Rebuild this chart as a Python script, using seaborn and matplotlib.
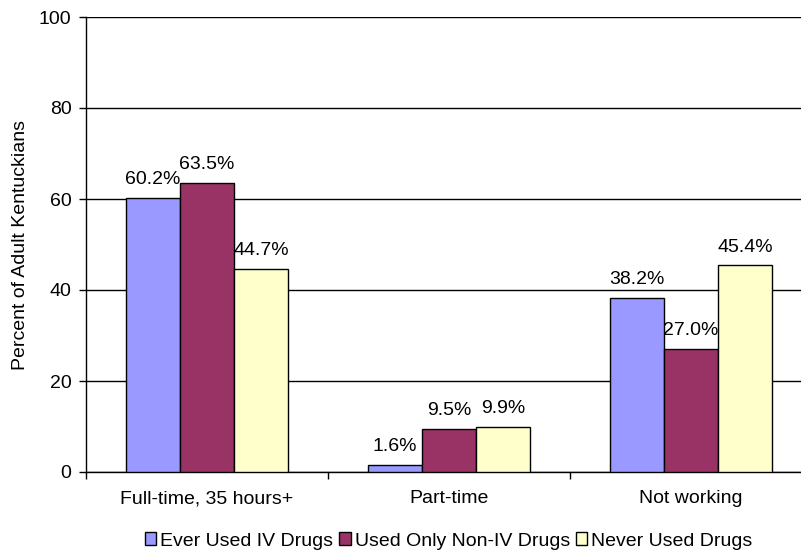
import matplotlib
matplotlib.use("Agg")
import matplotlib.pyplot as plt
from matplotlib.patches import Patch
import seaborn as sns
import pandas as pd

# Employment status by drug-use history
categories = ["Full-time, 35 hours+", "Part-time", "Not working"]
groups = ["Ever Used IV Drugs", "Used Only Non-IV Drugs", "Never Used Drugs"]
ever_iv = [60.2, 1.6, 38.2]
non_iv_only = [63.5, 9.5, 27.0]
never_used = [44.7, 9.9, 45.4]
y_ticks = [0, 20, 40, 60, 80, 100]

colors = ["#9999FF", "#993366", "#FFFFCC"]

rows = []
for g, vals in zip(groups, [ever_iv, non_iv_only, never_used]):
    for c, v in zip(categories, vals):
        rows.append({"Status": c, "Group": g, "Percent": v})
df = pd.DataFrame(rows)

sns.set_style("white")
plt.rcParams["font.family"] = ["Liberation Sans", "DejaVu Sans"]
plt.rcParams.update({"text.color": "black", "axes.labelcolor": "black",
                     "xtick.color": "black", "ytick.color": "black"})
FS = 14

fig = plt.figure(figsize=(8.01, 5.52), dpi=100)
ax = fig.add_axes([86 / 801, 1 - 472 / 552, 726 / 801, 455 / 552])

sns.barplot(data=df, x="Status", y="Percent", hue="Group", order=categories,
            hue_order=groups, palette=colors, width=0.67, edgecolor="black",
            linewidth=1, saturation=1, ax=ax, legend=False, zorder=3)

for cont in ax.containers:
    ax.bar_label(cont, labels=[f"{v:.1f}%" for v in cont.datavalues],
                 padding=7, fontsize=FS, color="black")

ax.set_xlim(-0.5, 2.5)
ax.set_ylim(0, 100)
ax.set_yticks(y_ticks)
ax.set_yticklabels([str(t) for t in y_ticks], fontsize=FS)
ax.yaxis.grid(True, color="black", linewidth=1, zorder=0)
ax.set_axisbelow(True)

# Category labels at the centres, tick marks at category boundaries
ax.set_xticks(range(len(categories)))
ax.set_xticklabels(categories, fontsize=FS)
ax.tick_params(axis="x", which="major", length=0, pad=13)
ax.set_xticks([-0.5, 0.5, 1.5, 2.5], minor=True)
ax.tick_params(axis="x", which="minor", length=5, width=1, color="black", direction="out", bottom=True)
ax.tick_params(axis="y", length=5, width=1, color="black", direction="out", left=True, pad=5.5)

ax.set_xlabel("")
ax.set_ylabel("Percent of Adult Kentuckians", fontsize=FS, labelpad=7)

for side in ["top", "right"]:
    ax.spines[side].set_visible(False)
for side in ["left", "bottom"]:
    ax.spines[side].set_color("black")
    ax.spines[side].set_linewidth(1)

handles = [Patch(facecolor=c, edgecolor="black", linewidth=1) for c in colors]
fig.legend(handles, groups, loc="center", bbox_to_anchor=(448.5 / 801, 1 - 541 / 552),
           ncol=3, frameon=False, fontsize=FS, handlelength=0.6, handleheight=0.6,
           handletextpad=0.2, columnspacing=0.3, borderaxespad=0, borderpad=0)

fig.savefig("out.png", dpi=100)
